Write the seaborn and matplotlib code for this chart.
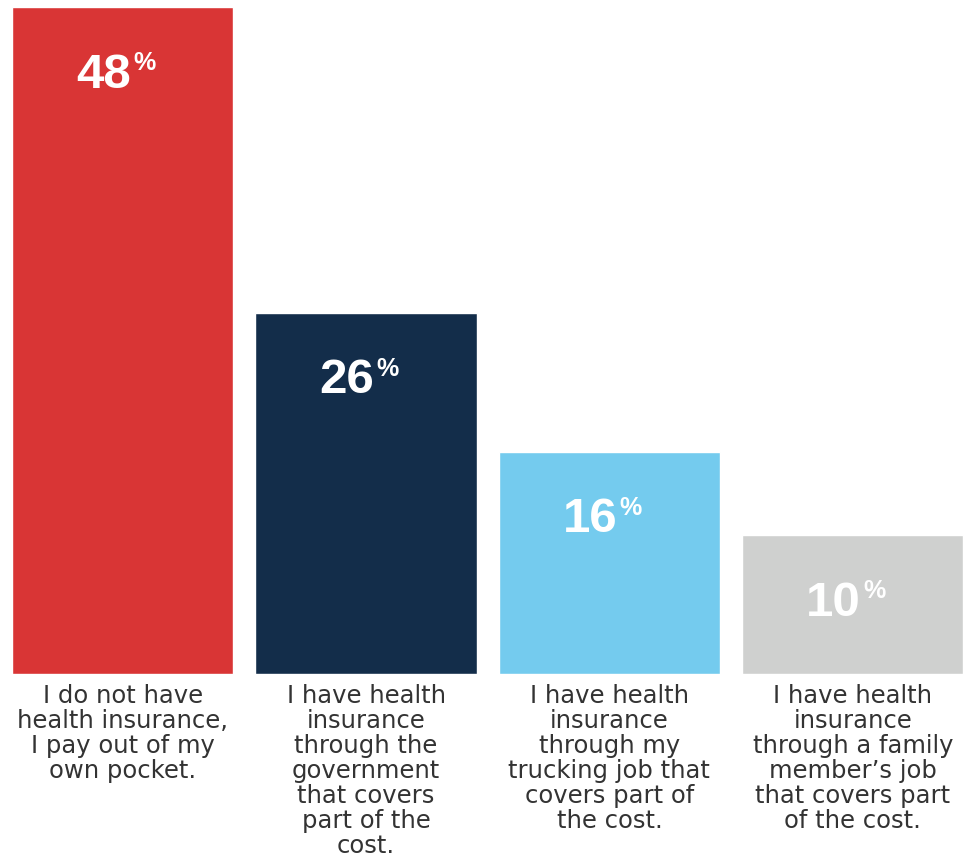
import matplotlib
matplotlib.use("Agg")
import matplotlib.pyplot as plt
import seaborn as sns
import pandas as pd

# Survey answers (x-axis labels, already wrapped) and their shares in percent
categories = [
    "I do not have\nhealth insurance,\nI pay out of my\nown pocket.",
    "I have health\ninsurance\nthrough the\ngovernment\nthat covers\npart of the\ncost.",
    "I have health\ninsurance\nthrough my\ntrucking job that\ncovers part of\nthe cost.",
    "I have health\ninsurance\nthrough a family\nmember\u2019s job\nthat covers part\nof the cost.",
]
shares = [48, 26, 16, 10]
bar_colors = ["#D93535", "#132D4A", "#74CBEE", "#CFD0CF"]

sns.set_theme(style="white")
plt.rcParams["font.family"] = ["DejaVu Sans"]

df = pd.DataFrame({"answer": categories, "share": shares})

fig = plt.figure(figsize=(9.72, 8.59), dpi=100)
ax = fig.add_axes([0.0, 185 / 859, 1.0, 674 / 859])

sns.barplot(data=df, x="answer", y="share", hue="answer", palette=bar_colors,
            width=0.91, saturation=1, legend=False, ax=ax)

ax.set_xlim(-0.504, 3.49)
ax.set_ylim(0, 48 * 674 / 667)
for s in ax.spines.values():
    s.set_visible(False)
ax.set_yticks([])
ax.set_xlabel("")
ax.set_ylabel("")
ax.tick_params(axis="x", length=0, pad=7.5)
for lbl in ax.get_xticklabels():
    lbl.set_fontsize(17.5)
    lbl.set_color("#333333")
    lbl.set_linespacing(1.05)
    lbl.set_multialignment("center")

# Value labels: bold number with a small raised percent sign
num_font = dict(color="white", fontweight="bold", family=["Liberation Sans", "DejaVu Sans"])
for i, v in enumerate(shares):
    ax.annotate(f"{v}", xy=(i, v), xytext=(6, -58), textcoords="offset points",
                ha="right", va="baseline", fontsize=35.5, **num_font)
    ax.annotate("%", xy=(i, v), xytext=(7.5, -32), textcoords="offset points",
                ha="left", va="top", fontsize=18, **num_font)

fig.savefig("out.png", dpi=100)
